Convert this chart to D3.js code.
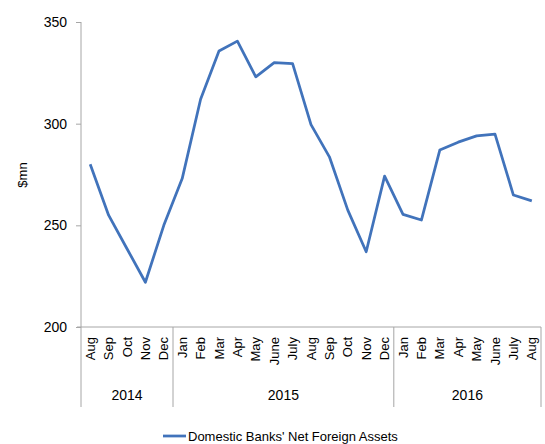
<!DOCTYPE html>
<html>
<head>
  <meta charset='utf-8'>
  <title>Domestic Banks' Net Foreign Assets</title>
  <script src='https://cdn.jsdelivr.net/npm/d3@7/dist/d3.min.js'></script>
  <style>
    body { margin: 0; background: #fff; }
    text { font-family: 'Liberation Sans Narrow', 'Arial Narrow', 'Liberation Sans', Arial, sans-serif; fill: #000; }
  </style>
</head>
<body>
  <svg id='plot-area' width='545' height='444'></svg>
  <script>
    const months = ['Aug', 'Sep', 'Oct', 'Nov', 'Dec',
        'Jan', 'Feb', 'Mar', 'Apr', 'May', 'June', 'July', 'Aug', 'Sep', 'Oct', 'Nov', 'Dec',
        'Jan', 'Feb', 'Mar', 'Apr', 'May', 'June', 'July', 'Aug'];
    const years = [
        { label: '2014', count: 5 },
        { label: '2015', count: 12 },
        { label: '2016', count: 8 }
    ];
    const values = [280, 255, 238.5, 222, 250,
        273, 312, 335.7, 340.6, 323, 330, 329.5, 299.5, 283.7, 257.5, 237, 274.2,
        255.4, 252.6, 287, 290.9, 294, 294.9, 264.9, 262];
    const yTicks = [200, 250, 300, 350];
    const seriesName = "Domestic Banks' Net Foreign Assets";

    const margin = { top: 22, right: 4, bottom: 117, left: 81 };
    const svg = d3.select('#plot-area');
    const width = 541 - margin.left;
    const height = 327 - margin.top;
    const g = svg.append('g')
        .attr('transform', `translate(${margin.left}, ${margin.top})`);

    const idx = months.map((m, i) => i);
    const scaleX = d3.scaleBand().domain(idx).range([0, width]);
    const scaleY = d3.scaleLinear().domain([200, 350]).range([height, 0]);
    const axisColor = '#a6a6a6';

    // y axis
    const yAxis = g.append('g')
        .call(d3.axisLeft(scaleY).tickValues(yTicks).tickSize(5).tickPadding(9));
    yAxis.select('.domain').attr('stroke', axisColor).attr('d', `M0,0V${height}`);
    yAxis.selectAll('.tick line').attr('stroke', axisColor);
    yAxis.selectAll('.tick text').style('font-size', '14px');

    // x axis line
    g.append('line')
        .attr('x1', -4).attr('x2', width)
        .attr('y1', height).attr('y2', height)
        .attr('stroke', axisColor);

    // month labels
    g.append('g').selectAll('text')
        .data(idx)
        .join('text')
        .attr('transform', (i) => `translate(${scaleX(i) + scaleX.bandwidth() / 2 + 4.5}, ${height + 10}) rotate(-90)`)
        .attr('text-anchor', 'end')
        .style('font-size', '13px')
        .text((i) => months[i]);

    // year groups
    let start = 0;
    const bounds = [0];
    years.forEach((y) => {
        y.start = start;
        start += y.count;
        y.end = start;
        bounds.push(start);
    });
    g.append('g').selectAll('line')
        .data(bounds)
        .join('line')
        .attr('x1', (b) => b * scaleX.step())
        .attr('x2', (b) => b * scaleX.step())
        .attr('y1', height)
        .attr('y2', height + 80)
        .attr('stroke', axisColor);
    g.append('g').selectAll('text')
        .data(years)
        .join('text')
        .attr('x', (y) => (y.start + y.end) / 2 * scaleX.step())
        .attr('y', height + 73)
        .attr('text-anchor', 'middle')
        .style('font-size', '14px')
        .text((y) => y.label);

    // y label
    svg.append('text')
        .attr('transform', 'translate(27, 175) rotate(-90)')
        .attr('text-anchor', 'middle')
        .style('font-size', '13px')
        .text('$mn');

    // series
    const line = d3.line()
        .x((d, i) => scaleX(i) + scaleX.bandwidth() / 2)
        .y((d) => scaleY(d));
    g.append('path')
        .datum(values)
        .attr('fill', 'none')
        .attr('stroke', '#4173bb')
        .attr('stroke-width', 2.75)
        .attr('stroke-linejoin', 'round')
        .attr('d', line);

    // legend
    const lg = svg.append('g').attr('transform', 'translate(163, 436)');
    lg.append('line')
        .attr('x1', 0).attr('x2', 23)
        .attr('stroke', '#4173bb').attr('stroke-width', 2.75);
    lg.append('text')
        .attr('x', 25).attr('y', 5)
        .style('font-size', '13px')
        .text(seriesName);
  </script>
</body>
</html>
